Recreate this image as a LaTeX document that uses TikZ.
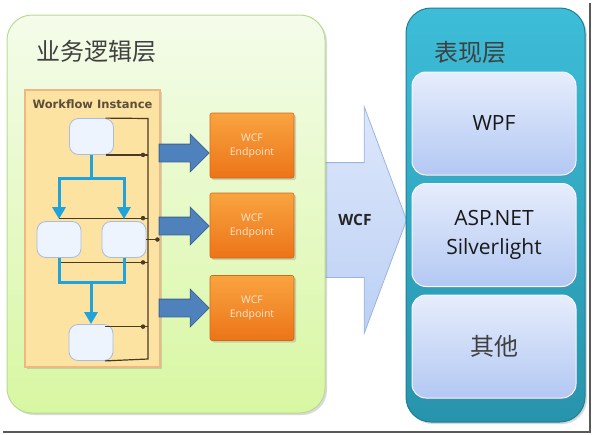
\documentclass[tikz,border=0pt]{standalone}
\usepackage{fontspec}
\setmainfont{Open Sans}
\newfontfamily\cjk{Noto Sans CJK SC}
\newfontfamily\wfsans{DejaVu Sans}
\usetikzlibrary{arrows.meta,shapes.arrows,shadows}

\definecolor{bizTop}{HTML}{F4FCEA}
\definecolor{bizBot}{HTML}{D8F7A2}
\definecolor{bizLine}{HTML}{B9DB92}
\definecolor{uiTop}{HTML}{3DBDD8}
\definecolor{uiBot}{HTML}{2794AC}
\definecolor{uiLine}{HTML}{1E7E93}
\definecolor{clTop}{HTML}{E6EDFC}
\definecolor{clBot}{HTML}{B3C8F3}
\definecolor{wcfTop}{HTML}{DDE7FB}
\definecolor{wcfBot}{HTML}{BCD0F4}
\definecolor{wcfLine}{HTML}{9BB4E0}
\definecolor{epTop}{HTML}{F9A440}
\definecolor{epBot}{HTML}{EC7418}
\definecolor{epLine}{HTML}{D2691A}
\definecolor{epText}{HTML}{FDE6D0}
\definecolor{arrBlue}{HTML}{4F81BD}
\definecolor{arrLine}{HTML}{3A6295}
\definecolor{wfFill}{HTML}{FDE3A2}
\definecolor{wfLine}{HTML}{EDB882}
\definecolor{wfText}{HTML}{5A4E3A}
\definecolor{taskFill}{HTML}{EEF4FE}
\definecolor{taskLine}{HTML}{A9BBE2}
\definecolor{flowBlue}{HTML}{1FA3DA}
\definecolor{busLine}{HTML}{4A3A22}
\definecolor{titleGray}{HTML}{404040}

\begin{document}
\begin{tikzpicture}[x=1pt, y=-1pt,
  softshadow/.style={drop shadow={shadow xshift=2pt, shadow yshift=-2pt, opacity=0.3}},
  bizbox/.style={rounded corners=25pt, draw=bizLine, line width=1pt, top color=bizTop, bottom color=bizBot,
    minimum width=318pt, minimum height=398pt, inner sep=0pt, softshadow},
  uibox/.style={rounded corners=25pt, draw=uiLine, line width=1pt, top color=uiTop, bottom color=uiBot,
    minimum width=179pt, minimum height=414pt, inner sep=0pt, softshadow},
  title/.style={font=\cjk\fontsize{24}{28}\selectfont, text=titleGray},
  client/.style={rounded corners=14pt, draw=white!60!clTop, line width=1pt, top color=clTop, bottom color=clBot,
    minimum width=164pt, minimum height=103pt, inner sep=0pt, align=center,
    font=\fontsize{21}{29}\selectfont, text=black!90,
    drop shadow={shadow xshift=1pt, shadow yshift=-1.5pt, opacity=0.35}},
  wcfarrow/.style={single arrow, draw=wcfLine, line width=0.8pt, top color=wcfTop, bottom color=wcfBot,
    inner xsep=0pt, inner ysep=57pt, single arrow head extend=56pt, single arrow tip angle=139,
    minimum height=92pt, anchor=tip},
  eparrow/.style={single arrow, draw=arrLine, line width=0.8pt, fill=arrBlue,
    inner xsep=0pt, inner ysep=8.5pt, single arrow head extend=10pt, single arrow tip angle=90,
    minimum height=50pt, anchor=tip},
  endpoint/.style={rounded corners=2pt, draw=epLine, line width=0.6pt, top color=epTop, bottom color=epBot,
    minimum width=84pt, minimum height=65pt, inner sep=0pt, align=center,
    font=\fontsize{10.5}{14}\selectfont, text=epText, softshadow},
  wfbox/.style={draw=wfLine, line width=1.5pt, fill=wfFill, minimum width=135pt, minimum height=277pt,
    inner sep=0pt, drop shadow={shadow xshift=1.5pt, shadow yshift=-1.5pt, opacity=0.3}},
  task/.style={rounded corners=9pt, draw=taskLine, line width=0.8pt, fill=taskFill,
    minimum width=44pt, minimum height=36pt, inner sep=0pt},
  flow/.style={draw=flowBlue, line width=3pt, >={Triangle[width=13pt,length=12pt]}},
  bus/.style={draw=busLine, line width=1.2pt},
  busdot/.style={circle, fill=busLine, inner sep=0pt, minimum size=4.5pt},
  frame/.style={draw=black!65, line width=2pt}]

  \useasboundingbox (0,0) rectangle (594,434);

  % WCF arrow between the layers
  \node [wcfarrow] (wcf) at (407,220) {};

  % business layer
  \node [bizbox] (biz) at (166,214) {};
  \node [title] (biztitle) at (96.5,51) {业务逻辑层};

  \node [wfbox] (wf) at (92.5,228.5) {};
  \node [font=\wfsans\bfseries\fontsize{11.5}{12}\selectfont, text=wfText] (wftitle) at (92.5,104) {Workflow Instance};

  \node [task] (s1) at (91.5,136.5) {};
  \node [task] (s2) at (59,239.5) {};
  \node [task] (s3) at (124,239.5) {};
  \node [task] (s4) at (91,342.5) {};

  \coordinate (bustop) at (148,118.5);
  \coordinate (busbot) at (148,359);
  \coordinate (split) at (91.5,178);
  \coordinate (join) at (91,282);

  \draw [bus] ([xshift=14pt]s1.north) -- (bustop) -- (busbot) -- ([xshift=14pt]s4.south);
  \draw [bus] ([xshift=14pt]s1.south) -- (s1.south -| bustop) node [busdot, xshift=-5pt] (d1) {};
  \draw [bus] ([yshift=3pt]s2.north) -- ([yshift=3pt]s2.north -| bustop) node [busdot, xshift=-5pt] (d2) {};
  \draw [bus] (s3.east) -- ([xshift=11pt]s3.east) node [busdot] (d3) {};
  \draw [bus] ([yshift=-4.5pt]s2.south) -- ([yshift=-4.5pt]s2.south -| bustop) node [busdot, xshift=-5pt] (d4) {};
  \draw [bus] ([xshift=14pt,yshift=-2.5pt]s4.north) -- ([yshift=-2.5pt]s4.north -| bustop) node [busdot, xshift=-5pt] (d5) {};

  \draw [flow] (s1.south) -- (split);
  \draw [flow,->,shorten >=2pt] (split) -| (s2.north);
  \draw [flow,->,shorten >=2pt] (split) -| (s3.north);
  \draw [flow] (s2.south) |- (join) -| (s3.south);
  \draw [flow,->] (join) -- (s4.north);

  % endpoints
  \node [endpoint] (ep1) at (252,145.5) {WCF\\Endpoint};
  \node [endpoint] (ep2) at (252,225.5) {WCF\\Endpoint};
  \node [endpoint] (ep3) at (252,308) {WCF\\Endpoint};
  \node [eparrow] (a1) at (ep1.west |- 0,153) {};
  \node [eparrow] (a2) at (ep2.west |- 0,226) {};
  \node [eparrow] (a3) at (ep3.west |- 0,308) {};

  \node [font=\bfseries\fontsize{15.5}{16}\selectfont, text=black!85] (wcflabel) at (355,220) {WCF};

  % presentation layer
  \node [uibox] (ui) at (495.5,215) {};
  \node [title] (uititle) at (470.5,52) {表现层};
  \node [client] (wpf) at (494,123.5) {WPF};
  \node [client] (asp) at (494,235) {ASP.NET\\Silverlight};
  \node [client, font=\cjk\fontsize{24}{28}\selectfont, text=titleGray] (other) at (494,346.5) {其他};

  \draw [frame] (3,432) -- (590,432) -- (590,3);
\end{tikzpicture}
\end{document}
